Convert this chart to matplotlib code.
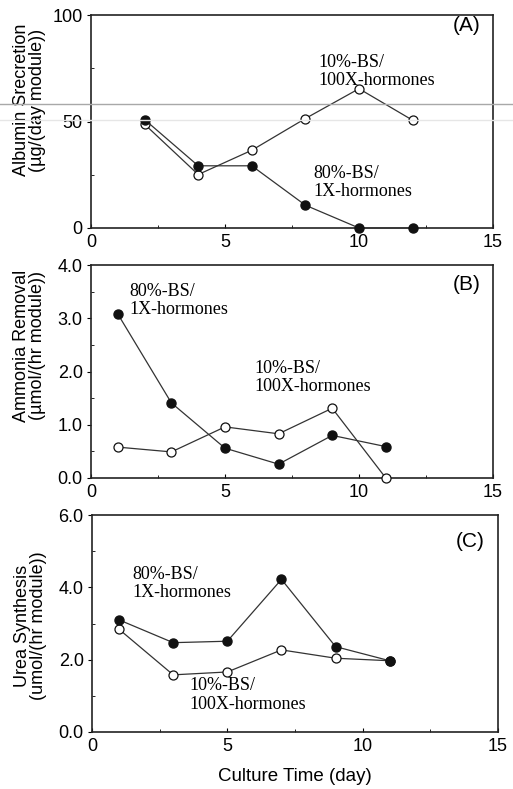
import numpy as np
import matplotlib
matplotlib.use("Agg")
import matplotlib.pyplot as plt
from matplotlib.lines import Line2D
from matplotlib.ticker import MultipleLocator

# Panel A: albumin secretion
days_a = [2, 4, 6, 8, 10, 12]
alb_10bs = [48.7, 25.1, 36.5, 51.4, 65.4, 50.6]
alb_80bs = [50.9, 29.2, 29.2, 10.7, 0.0, 0.0]

# Panel B: ammonia removal
days_bc = [1, 3, 5, 7, 9, 11]
amm_10bs = [0.58, 0.49, 0.96, 0.83, 1.31, 0.0]
amm_80bs = [3.08, 1.41, 0.56, 0.26, 0.80, 0.59]

# Panel C: urea synthesis
urea_10bs = [2.84, 1.58, 1.66, 2.27, 2.04, 1.97]
urea_80bs = [3.10, 2.47, 2.51, 4.22, 2.36, 1.97]

ylabels = ["Albumin Srecretion\n(µg/(day module))",
           "Ammonia Removal\n(µmol/(hr module))",
           "Urea Synthesis\n(umol/(hr module))"]
panel_tags = ["(A)", "(B)", "(C)"]
lab_10 = "10%-BS/\n100X-hormones"
lab_80 = "80%-BS/\n1X-hormones"

sans = "Liberation Sans"
serif = "Liberation Serif"

fig = plt.figure(figsize=(5.13, 7.89), dpi=100)

W, H = 513.0, 789.0
def box(l, r, t, b):
    return [l / W, 1 - b / H, (r - l) / W, (b - t) / H]

axA = fig.add_axes(box(91, 493, 15, 228))
axB = fig.add_axes(box(91, 493, 265, 478))
axC = fig.add_axes(box(92, 498, 515, 732))

def style(ax, ymax, ymaj, ymin, fmt, ylab, ylab_y, tag, tag_y):
    ax.set_xlim(0, 15)
    ax.set_ylim(0, ymax)
    ax.xaxis.set_major_locator(MultipleLocator(5))
    ax.xaxis.set_minor_locator(MultipleLocator(2.5))
    ax.yaxis.set_major_locator(MultipleLocator(ymaj))
    ax.yaxis.set_minor_locator(MultipleLocator(ymin))
    ax.yaxis.set_major_formatter(fmt)
    ax.tick_params(axis="x", which="major", direction="in", length=3, width=0.8, pad=4)
    ax.tick_params(axis="x", which="minor", direction="in", length=2, width=0.6)
    ax.tick_params(axis="y", which="major", direction="out", length=3, width=0.8, pad=3)
    ax.tick_params(axis="y", which="minor", direction="in", length=2, width=0.6)
    for t in ax.get_xticklabels() + ax.get_yticklabels():
        t.set_fontfamily(sans)
        t.set_fontsize(13)
    for s in ax.spines.values():
        s.set_linewidth(1.2)
        s.set_color("#222222")
    ax.set_ylabel(ylab, fontfamily=sans, fontsize=13, linespacing=0.92)
    ax.yaxis.set_label_coords(-0.112, ylab_y)
    ax.text(0.968, tag_y, tag, transform=ax.transAxes, ha="right", va="center",
            fontfamily=sans, fontsize=15)

def draw(ax, x, open_y, filled_y):
    ax.plot(x, open_y, color="#333333", lw=0.9, marker="o", ms=6.5,
            mfc="white", mec="#111111", mew=0.9, zorder=3, clip_on=False)
    ax.plot(x, filled_y, color="#333333", lw=0.9, marker="o", ms=6.5,
            mfc="#111111", mec="#111111", zorder=4, clip_on=False)

draw(axA, days_a, alb_10bs, alb_80bs)
draw(axB, days_bc, amm_10bs, amm_80bs)
draw(axC, days_bc, urea_10bs, urea_80bs)

style(axA, 100, 50, 25, "{x:.0f}", ylabels[0], 0.60, panel_tags[0], 0.95)
style(axB, 4.0, 1.0, 0.5, "{x:.1f}", ylabels[1], 0.62, panel_tags[1], 0.91)
style(axC, 6.0, 2.0, 1.0, "{x:.1f}", ylabels[2], 0.49, panel_tags[2], 0.88)

axC.set_xlabel("Culture Time (day)", fontfamily=sans, fontsize=13.5, labelpad=10)

kw = dict(fontfamily=serif, fontsize=13, ha="left", va="center", linespacing=1.1)
axA.text(8.5, 73.5, lab_10, **kw)
axA.text(8.3, 21.5, lab_80, **kw)
axB.text(1.45, 3.33, lab_80, **kw)
axB.text(6.1, 1.89, lab_10, **kw)
axC.text(1.5, 4.11, lab_80, **kw)
axC.text(3.6, 1.02, lab_10, **kw)

# scan lines crossing the page
fig.add_artist(Line2D([0, 1], [1 - 104 / H] * 2, color="#a8a8a8", lw=1.0))
fig.add_artist(Line2D([0, 1], [1 - 120 / H] * 2, color="#e6e6e6", lw=1.0))

fig.savefig("out.png", dpi=100)
